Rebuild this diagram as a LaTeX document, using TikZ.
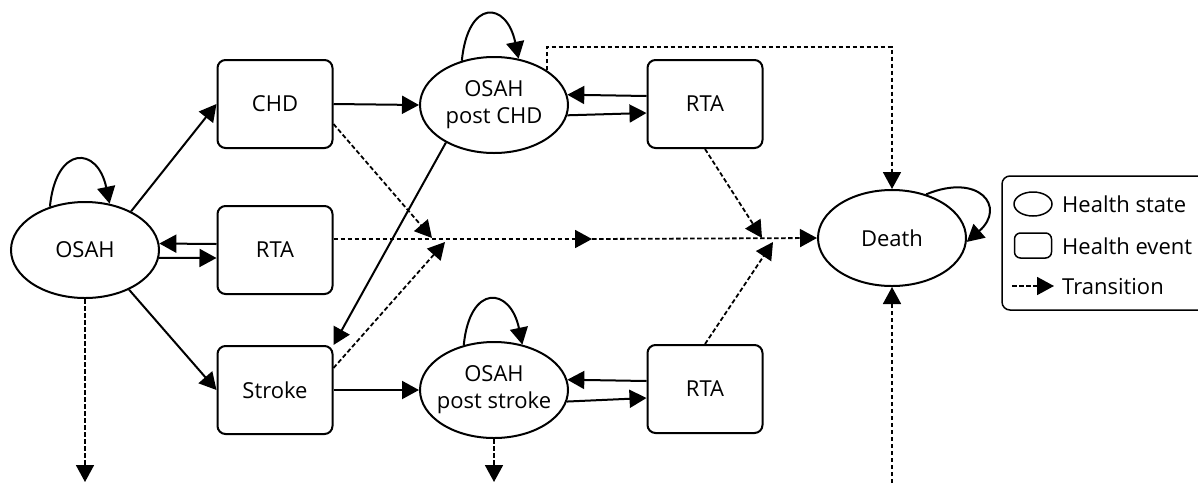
\documentclass[tikz,border=0pt]{standalone}
\usepackage{fontspec}
\setmainfont{Open Sans}
\usetikzlibrary{arrows.meta,shapes.geometric,calc}
\begin{document}
\begin{tikzpicture}[x=1pt,y=-1pt, font=\fontsize{22}{27}\selectfont,
  st/.style={ellipse, draw, line width=2pt, minimum width=148pt, minimum height=96pt, inner xsep=-14pt, inner ysep=0pt, align=center},
  ev/.style={rectangle, rounded corners=8pt, draw, line width=2pt, minimum width=115pt, minimum height=88pt, inner sep=0pt},
  arr/.style={line width=2pt, -{Triangle[length=17pt,width=18pt]}},
  darr/.style={line width=1.8pt, dash pattern=on 4.5pt off 2.5pt, -{Triangle[length=17pt,width=18pt]}},
  loopar/.style={line width=2pt, -{Triangle[length=17pt,width=18pt]}},
  legtext/.style={anchor=west, inner sep=0pt}]
\useasboundingbox (0,0) rectangle (1198,483);
\clip (0,0) rectangle (1198,483);

% nodes
\node[st] (osah) at (85,250) {OSAH};
\node[ev] (chd) at (275,104) {CHD};
\node[ev] (rtam) at (275,250) {RTA};
\node[ev] (stroke) at (275,390) {Stroke};
\node[st] (pchd) at (494,105) {OSAH\\post CHD};
\node[st] (pstroke) at (494,390) {OSAH\\post stroke};
\node[ev] (rtat) at (705,104) {RTA};
\node[ev] (rtab) at (705,389) {RTA};
\node[st] (death) at (892,238) {Death};

% coordinates
\coordinate (j1) at (432,238);
\coordinate (j2) at (445,242);
\coordinate (j3) at (762,238);
\coordinate (j4) at (773,242);
\coordinate (mid) at (592,239);
\coordinate (top) at (0,47);
\coordinate (bosah) at (85,482);
\coordinate (bps) at (494,482);
\coordinate (bdeath) at (892,490);

% solid transitions
\draw[arr] (osah.40) -- (chd.west);
\draw[arr] (osah.-42) -- (stroke.west);
\draw[arr] ([yshift=6pt]rtam.west) -- (osah.5);
\draw[arr] (osah.-6) -- ([yshift=-8pt]rtam.west);
\draw[arr] (chd.east) -- (pchd.west);
\draw[arr] (stroke.east) -- (pstroke.west);
\draw[arr] ([yshift=8pt]rtat.west) -- (pchd.8);
\draw[arr] (pchd.-8) -- ([yshift=-9pt]rtat.west);
\draw[arr] ([yshift=8pt]rtab.west) -- (pstroke.8);
\draw[arr] (pstroke.-9) -- ([yshift=-9pt]rtab.west);
\draw[arr] (pchd.218) -- (stroke.north east);

% self loops
\draw[loopar] (osah.129) .. controls +(6,-62) and +(-12,-58) .. (osah.62);
\draw[loopar] (pchd.126) .. controls +(6,-62) and +(-12,-58) .. (pchd.62);
\draw[loopar] (pstroke.124) .. controls +(6,-62) and +(-12,-58) .. (pstroke.58);
\draw[loopar] (death.52) .. controls +(53,-22) and +(40,-35) .. (death.-3);

% dashed transitions
\draw[darr] ([yshift=-20pt]chd.east) -- (j1);
\draw[darr] ([yshift=22pt]stroke.east) -- (j2);
\draw[darr] (rtat.south) -- (j3);
\draw[darr] (rtab.north) -- (j4);
\draw[darr] ([yshift=11pt]rtam.east) -- (mid);
\draw[darr] (mid) -- (death.west);
\draw[darr] (pchd.33) -- (pchd.33 |- top) -| (death.north);
\draw[darr] (bdeath) -- (death.south);
\draw[darr] (osah.south) -- (bosah);
\draw[darr] (pstroke.south) -- (bps);

% legend (frame runs past the right edge)
\draw[line width=1.5pt, rounded corners=8pt] (1230,176) -- (1002,176) -- (1002,310) -- (1230,310);
\node[ellipse, draw, line width=1.5pt, minimum width=38pt, minimum height=24pt, inner sep=0pt] (lgstate) at (1033,204) {};
\node[legtext] (lgstatet) at (1062,204) {Health state};
\node[rectangle, rounded corners=6pt, draw, line width=1.5pt, minimum width=37pt, minimum height=25pt, inner sep=0pt] (lgevent) at (1033,245.5) {};
\node[legtext] (lgeventt) at (1062,246) {Health event};
\coordinate (lga) at (1012,286);
\coordinate (lgb) at (1054,286);
\draw[darr] (lga) -- (lgb);
\node[legtext] (lgtrt) at (1062,287) {Transition};
\end{tikzpicture}
\end{document}
